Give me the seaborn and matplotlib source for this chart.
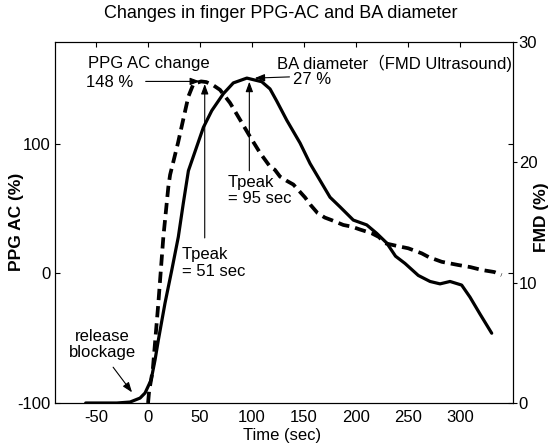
import matplotlib
matplotlib.use("Agg")
import matplotlib.pyplot as plt
import seaborn as sns

# Finger PPG AC amplitude change (%) after cuff release
time_ppg = [0, 1, 4.5, 9.9, 14.7, 19.5, 21.2, 28.8, 35.6, 38.8, 43.6, 51, 56, 62.8,
            69.2, 78.8, 88.5, 98, 107.7, 117.3, 122, 126.9, 133, 139.7, 151, 156,
            163, 170, 176.6, 187.8, 195.9, 203.8, 215.1, 222, 228, 240, 250.3,
            263.2, 270, 282.4, 298.4, 310, 320.9, 333, 340]
ppg_ac = [-100, -91, -74.7, -22.9, 28, 66.6, 76, 100.6, 125, 136.4, 146, 148, 147.5,
          145, 141.5, 131.5, 118.4, 105.5, 92.9, 82.3, 79.8, 74.6, 71.5, 68.5, 58.5,
          53, 46.5, 43, 41, 37.3, 36, 33.8, 30.9, 28, 23.2, 21, 19.3, 15.4, 12.5,
          8.9, 6.4, 4.8, 2.6, 1, -1.3]

# Brachial artery diameter change, FMD (%)
time_fmd = [-60, -30, -17.3, -7.7, -2.9, 2.9, 6.7, 9.9, 16.3, 22.8, 29.1, 33.9, 38.8,
            46.8, 53.2, 61.3, 72.4, 82, 95, 109.3, 117.3, 123.7, 133.4, 146.2, 155.8,
            165.4, 175, 184.6, 197.4, 210.3, 219.9, 229.5, 238, 247.1, 259.9, 271.2,
            280.8, 290.4, 301.6, 309.6, 319.2, 330.5]
fmd = [0, 0, 0.08, 0.41, 0.83, 1.91, 3.57, 5.23, 8.3, 11.04, 13.8, 16.6, 19.3, 21.3,
       22.9, 24.3, 25.7, 26.6, 27, 26.7, 26.1, 25.1, 23.5, 21.6, 19.9, 18.5, 17.1,
       16.3, 15.2, 14.8, 14.1, 13.3, 12.2, 11.6, 10.6, 10.1, 9.9, 10.1, 9.8, 8.8,
       7.4, 5.8]

x_ticks = [-50, 0, 50, 100, 150, 200, 250, 300]
ppg_ticks = [-100, 0, 100]
fmd_ticks = [0, 10, 20, 30]

ppg_peak_time, ppg_peak_value = 51, 148
fmd_peak_time, fmd_peak_value = 95, 27

sns.set_style("white")
plt.rcParams['font.family'] = ['Liberation Sans', 'Noto Sans CJK SC', 'DejaVu Sans']
plt.rcParams['axes.unicode_minus'] = False
plt.rcParams['text.color'] = 'black'

W, H = 550, 448
fig = plt.figure(figsize=(W / 100, H / 100), dpi=100)
ax = fig.add_axes([55 / W, (H - 403) / H, 457.5 / W, 361 / H])

sns.lineplot(x=time_ppg, y=ppg_ac, ax=ax, color='black', lw=2.7,
             linestyle=(0, (3, 1.6)), errorbar=None, sort=False)
ax.set_xlim(-89.5, 350.5)
ax.set_ylim(-100, 178.4)

ax2 = ax.twinx()
sns.lineplot(x=time_fmd, y=fmd, ax=ax2, color='black', lw=2.3,
             errorbar=None, sort=False)
ax2.set_ylim(0, 30)

# ticks and spines
ax.set_xticks(x_ticks)
ax.set_yticks(ppg_ticks)
ax.tick_params(axis='both', direction='in', length=3.5, width=0.8, labelsize=12,
               top=True, right=True, labelright=False, colors='black')
ax.tick_params(axis='x', pad=5)
ax.tick_params(axis='y', pad=3)
ax2.set_yticks(fmd_ticks)
ax2.tick_params(axis='y', direction='out', length=3, width=0.8, pad=1.5,
                labelsize=12, colors='black')
for a in (ax, ax2):
    for s in a.spines.values():
        s.set_color('black')
        s.set_linewidth(0.8)
ax.set_xlabel('')
ax.set_ylabel('')
ax2.set_ylabel('')

# labels and title
fig.text(281 / W, 1 - 14 / H, 'Changes in finger PPG-AC and BA diameter',
         ha='center', va='center', fontsize=13)
fig.text(16.7 / W, 1 - 221.7 / H, 'PPG AC (%)', rotation=90, ha='center',
         va='center', fontsize=12.5, fontweight='bold')
fig.text(541.5 / W, 1 - 217.5 / H, 'FMD (%)', rotation=90, ha='center',
         va='center', fontsize=12.5, fontweight='bold')
fig.text(282.5 / W, 1 - 435 / H, 'Time (sec)', ha='center', va='center', fontsize=12)

arrow = dict(arrowstyle='-|>,head_length=0.6,head_width=0.22', color='black',
             lw=0.8, shrinkA=0, shrinkB=0)

# PPG peak annotations
ax.text(-58, 161.6, 'PPG AC change', ha='left', va='center', fontsize=12)
ax.text(-59.6, 147, f'{ppg_peak_value} %', ha='left', va='center', fontsize=12)
ax.annotate('', xy=(ppg_peak_time - 1, ppg_peak_value), xytext=(-2.3, ppg_peak_value),
            arrowprops=arrow)
ax.annotate('', xy=(54.5, 146), xytext=(54.5, 27.3), arrowprops=arrow)
ax.text(32.4, 8, f'Tpeak\n= {ppg_peak_time} sec', ha='left', va='center',
        fontsize=12, linespacing=1.1)

# FMD peak annotations
ax.text(124, 161.6, 'BA diameter（FMD Ultrasound)', ha='left', va='center', fontsize=12)
ax2.text(139.4, 26.9, f'{fmd_peak_value} %', ha='left', va='center', fontsize=12)
ax2.annotate('', xy=(102.5, 27.0), xytext=(136, 27.1), arrowprops=arrow)
ax2.annotate('', xy=(97.4, 26.7), xytext=(97.4, 19.3), arrowprops=arrow)
ax.text(77, 64, f'Tpeak\n= {fmd_peak_time} sec', ha='left', va='center',
        fontsize=12, linespacing=1.1)

# cuff release marker
ax.text(-43.8, -54.6, 'release\nblockage', ha='center', va='center',
        fontsize=12, linespacing=1.1)
ax.annotate('', xy=(-15.4, -91.8), xytext=(-33.6, -72.4), arrowprops=arrow)

fig.savefig('out.png', dpi=100)
